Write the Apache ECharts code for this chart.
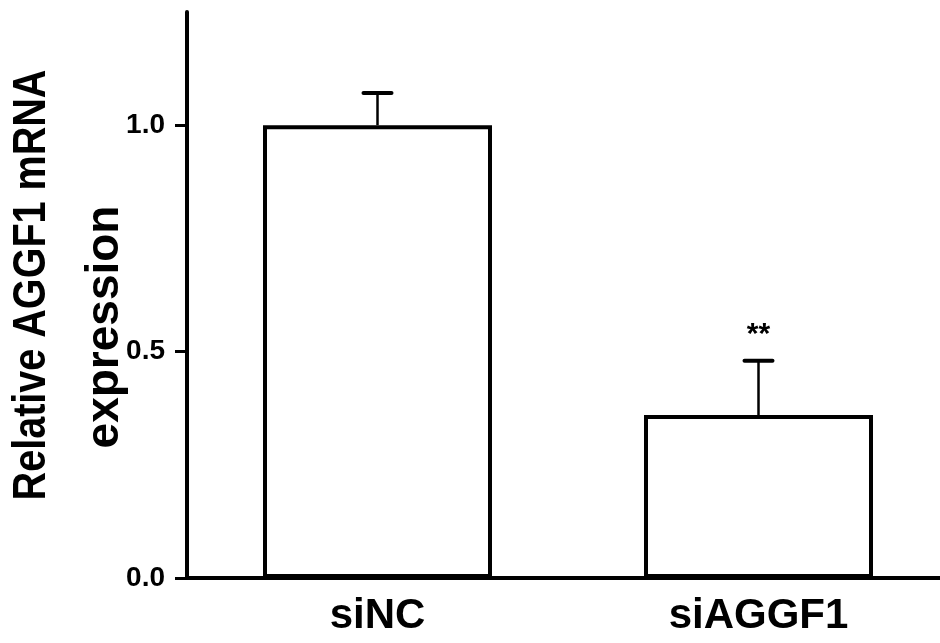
<!DOCTYPE html>
<html>
<head>
<meta charset="utf-8">
<script src="https://cdn.jsdelivr.net/npm/echarts@6.0.0/dist/echarts.min.js"></script>
<style>
html,body{margin:0;padding:0;background:#fff;}
#chart{width:940px;height:643px;}
</style>
</head>
<body>
<div id="chart"></div>
<script>
var categories = ['siNC', 'siAGGF1'];
var means = [1.0, 0.36];
var errors = [0.071, 0.12];
var sigLabels = ['', '**'];
var yTicks = [0, 0.5, 1.0];
var yNameLines = ['Relative AGGF1 mRNA', 'expression'];

var FONT = '"Liberation Sans", Arial, sans-serif';
var chart = echarts.init(document.getElementById('chart'), null, {renderer: 'canvas'});

var errData = categories.map(function (c, i) { return [i, means[i], errors[i]]; });

chart.setOption({
  animation: false,
  backgroundColor: '#fff',
  grid: {left: 187, right: -9, top: 12, bottom: 65, outerBoundsMode: 'none', containLabel: false},
  graphic: [
    {type: 'text', x: 32, y: 285, rotation: Math.PI / 2, scaleX: 0.86,
      style: {text: yNameLines[0], font: 'bold 46px ' + FONT, fill: '#000', align: 'center', verticalAlign: 'middle'}},
    {type: 'text', x: 105, y: 327, rotation: Math.PI / 2, scaleX: 1.0,
      style: {text: yNameLines[1], font: 'bold 46px ' + FONT, fill: '#000', align: 'center', verticalAlign: 'middle'}}
  ],
  xAxis: {
    type: 'category',
    data: categories,
    boundaryGap: true,
    axisLine: {lineStyle: {color: '#000', width: 4}},
    axisTick: {alignWithLabel: true, length: 12, lineStyle: {color: '#000', width: 3}},
    axisLabel: {color: '#000', fontSize: 42, fontWeight: 'bold', fontFamily: FONT, margin: 17},
    splitLine: {show: false}
  },
  yAxis: {
    type: 'value',
    min: 0,
    max: 1.25,
    interval: 0.5,
    axisLine: {show: true, lineStyle: {color: '#000', width: 4, cap: 'round'}},
    axisTick: {show: true, inside: false, length: 12, lineStyle: {color: '#000', width: 3, opacity: 1}},
    axisLabel: {color: '#000', fontSize: 28, fontWeight: 'bold', fontFamily: FONT, margin: 22,
      showMaxLabel: false,
      formatter: function (v) { return yTicks.indexOf(v) >= 0 ? v.toFixed(1) : ''; }},
    splitLine: {show: false}
  },
  series: [
    {
      type: 'bar',
      data: means,
      barWidth: 229,
      itemStyle: {color: '#fff', borderColor: '#000', borderWidth: 4},
      z: 2
    },
    {
      type: 'custom',
      data: errData,
      z: 3,
      renderItem: function (params, api) {
        var i = api.value(0);
        var m = api.value(1);
        var e = api.value(2);
        var lab = sigLabels[params.dataIndex];
        var base = api.coord([i, m]);
        var top = api.coord([i, m + e]);
        var half = 14;
        var children = [
          {type: 'line', shape: {x1: base[0], y1: base[1], x2: top[0], y2: top[1]},
            style: {stroke: '#000', lineWidth: 2.5}},
          {type: 'line', shape: {x1: top[0] - half, y1: top[1], x2: top[0] + half, y2: top[1]},
            style: {stroke: '#000', lineWidth: 4, lineCap: 'round'}}
        ];
        if (lab) {
          children.push({type: 'text', x: top[0], y: top[1] - 26,
            style: {text: lab, fill: '#000', font: 'bold 30px ' + FONT, align: 'center', verticalAlign: 'middle'}});
        }
        return {type: 'group', children: children};
      }
    }
  ]
});
</script>
</body>
</html>
